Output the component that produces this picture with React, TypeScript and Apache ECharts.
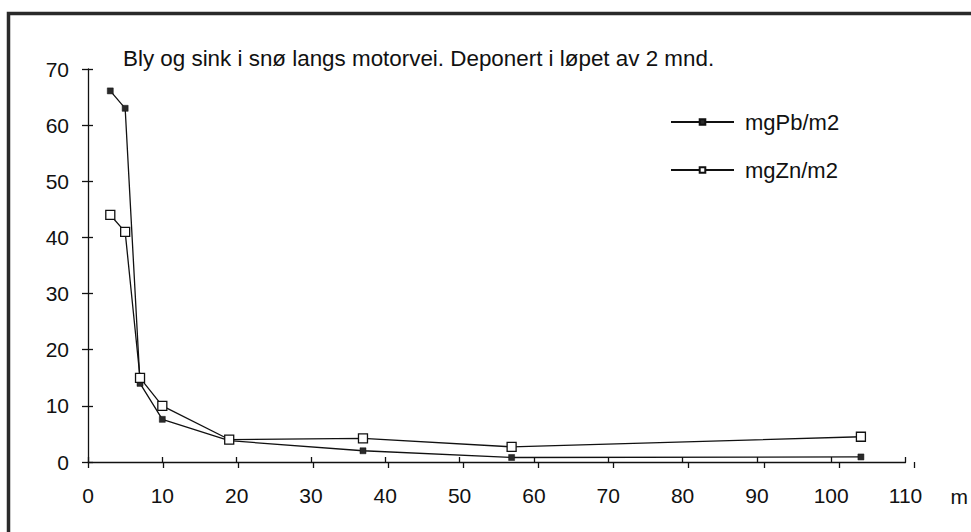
import React, { useEffect, useRef } from "react";
import * as echarts from "echarts";

const titleText = "Bly og sink i snø langs motorvei. Deponert i løpet av 2 mnd.";
const distances = [3, 5, 7, 10, 19, 37, 57, 104];
const pbValues = [66.1, 63.0, 14.0, 7.6, 3.8, 2.0, 0.8, 0.9];
const znValues = [44.0, 41.0, 15.0, 10.0, 4.0, 4.2, 2.7, 4.5];
const seriesNames = ["mgPb/m2", "mgZn/m2"];
const xAxisName = "m";

const FONT = "'Liberation Sans', Arial, Helvetica, sans-serif";
const INK = "#111";

export default function App() {
  const ref = useRef<HTMLDivElement>(null);
  useEffect(() => {
    if (!ref.current) return;
    const chart = echarts.init(ref.current, undefined, { renderer: "svg" });
    const gridBox = { left: 88, right: 57, top: 69, bottom: 70 };
    const xBase = { type: "value", min: 0, max: 110, interval: 10 };
    const yBase = { type: "value", min: 0, max: 70, interval: 10 };
    const pbData = distances.map((d, i) => [d, pbValues[i]]);
    const znData = distances.map((d, i) => [d, znValues[i]]);
    chart.setOption({
      animation: false,
      backgroundColor: "#fff",
      title: {
        text: titleText,
        left: 118,
        top: 42,
        textStyle: { fontFamily: FONT, fontSize: 22.4, fontWeight: "normal", color: INK },
      },
      legend: {
        orient: "vertical",
        left: 670,
        top: 111,
        padding: 0,
        itemWidth: 63,
        itemHeight: 7,
        itemGap: 26,
        data: seriesNames,
        textStyle: { fontFamily: FONT, fontSize: 22, color: INK, padding: [8, 0, 0, 6] },
      },
      grid: [
        { ...gridBox },
        { ...gridBox },
      ],
      xAxis: [
        {
          ...xBase,
          gridIndex: 0,
          name: xAxisName,
          nameLocation: "end",
          nameGap: 45,
          nameTextStyle: { fontFamily: FONT, fontSize: 21, color: INK, align: "left", verticalAlign: "top", padding: [24, 0, 0, 0] },
          axisLine: { show: true, lineStyle: { color: INK, width: 1.3 } },
          axisTick: { show: true, inside: true, length: 5, lineStyle: { color: INK, width: 1.3 } },
          axisLabel: { margin: 23, fontFamily: FONT, fontSize: 21, color: INK },
          splitLine: { show: false },
        },
        {
          ...xBase,
          gridIndex: 1,
          axisLine: { show: false },
          axisTick: { show: true, inside: false, length: 6, lineStyle: { color: INK, width: 1.3 } },
          axisLabel: { show: false },
          splitLine: { show: false },
        },
      ],
      yAxis: [
        {
          ...yBase,
          gridIndex: 0,
          axisLine: { show: true, lineStyle: { color: INK, width: 1.3 } },
          axisTick: { show: true, inside: true, length: 5, lineStyle: { color: INK, width: 1.3 } },
          axisLabel: { margin: 19, fontFamily: FONT, fontSize: 21, color: INK },
          splitLine: { show: false },
        },
        {
          ...yBase,
          gridIndex: 1,
          axisLine: { show: false },
          axisTick: { show: true, inside: false, length: 6, lineStyle: { color: INK, width: 1.3 } },
          axisLabel: { show: false },
          splitLine: { show: false },
        },
      ],
      series: [
        {
          name: seriesNames[0],
          type: "line",
          xAxisIndex: 0,
          yAxisIndex: 0,
          data: pbData,
          symbol: "rect",
          symbolSize: 6,
          showAllSymbol: true,
          lineStyle: { color: INK, width: 1.3 },
          itemStyle: { color: "#2a2a2a", borderColor: "#111", borderWidth: 0.5 },
          z: 2,
        },
        {
          name: seriesNames[1],
          type: "line",
          xAxisIndex: 0,
          yAxisIndex: 0,
          data: znData,
          symbol: "rect",
          symbolSize: 9,
          showAllSymbol: true,
          lineStyle: { color: INK, width: 1.3 },
          itemStyle: { color: "#fff", borderColor: INK, borderWidth: 1.3 },
          z: 3,
        },
      ],
      graphic: [
        {
          type: "rect",
          shape: { x: 8.5, y: 13.5, width: 1000, height: 600 },
          style: { fill: "none", stroke: "#2a2a2a", lineWidth: 3.5 },
          silent: true,
        },
      ],
    });
    return () => chart.dispose();
  }, []);
  return (
    <div
      ref={ref}
      style={{ position: "fixed", left: 0, top: 0, width: 971, height: 532 }}
    />
  );
}
